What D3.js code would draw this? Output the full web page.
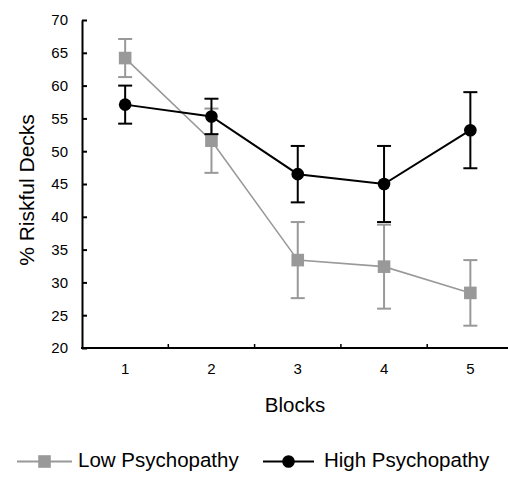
<!DOCTYPE html>
<html>
<head>
<meta charset="utf-8">
<script src="https://cdn.jsdelivr.net/npm/d3@7"></script>
<style>
  html, body { margin: 0; padding: 0; background: #fff; }
  svg { display: block; font-family: "Liberation Sans", Arial, sans-serif; }
</style>
</head>
<body>
<svg id="chart" width="508" height="485"></svg>
<script>
// Block labels on the x axis
const blocks = ["1", "2", "3", "4", "5"];
// Mean % of choices from the risky decks, per block
const lowMeans  = [64.2, 51.6, 33.4, 32.4, 28.4];
const lowErr    = [2.9, 4.9, 5.8, 6.4, 5.0];
const highMeans = [57.1, 55.3, 46.5, 45.0, 53.2];
const highErr   = [2.9, 2.7, 4.3, 5.8, 5.8];
// Y-axis ticks
const yTicks = [20, 25, 30, 35, 40, 45, 50, 55, 60, 65, 70];

const series = [
  { name: "Low Psychopathy",  means: lowMeans,  errs: lowErr,  color: "#999999", shape: "square", width: 1.6 },
  { name: "High Psychopathy", means: highMeans, errs: highErr, color: "#000000", shape: "circle", width: 2 }
];

const svg = d3.select("#chart");
const plotLeft = 82, plotRight = 513.5, plotTop = 20, plotBottom = 348;

const x = d3.scaleBand().domain(blocks).range([plotLeft, plotRight]).paddingInner(0).paddingOuter(0);
const y = d3.scaleLinear().domain([20, 70]).range([plotBottom, plotTop]);

// Y axis: tick marks point into the plot, labels sit to the left
const yAxis = svg.append("g")
  .attr("transform", `translate(${plotLeft},0)`)
  .call(d3.axisLeft(y).tickValues(yTicks).tickSize(-5).tickPadding(14).tickSizeOuter(0));
yAxis.select(".domain").attr("stroke", "#000").attr("stroke-width", 2);
yAxis.selectAll(".tick line").attr("stroke", "#000").attr("stroke-width", 2);
yAxis.selectAll(".tick text").attr("font-size", 15).attr("fill", "#000")
  .attr("font-family", "Liberation Sans, Arial, sans-serif");

// X axis line with inner ticks on band boundaries
svg.append("line")
  .attr("x1", plotLeft - 1).attr("x2", 508)
  .attr("y1", plotBottom).attr("y2", plotBottom)
  .attr("stroke", "#000").attr("stroke-width", 2);
blocks.slice(1).forEach(b => {
  svg.append("line")
    .attr("x1", x(b)).attr("x2", x(b))
    .attr("y1", plotBottom).attr("y2", plotBottom - 4)
    .attr("stroke", "#000").attr("stroke-width", 1.5);
});
svg.append("g").selectAll("text").data(blocks).join("text")
  .attr("x", d => x(d) + x.bandwidth() / 2)
  .attr("y", 374)
  .attr("text-anchor", "middle")
  .attr("font-size", 15)
  .text(d => d);

// Axis titles
svg.append("text")
  .attr("x", 295).attr("y", 412)
  .attr("text-anchor", "middle").attr("font-size", 20.5)
  .text("Blocks");
svg.append("text")
  .attr("transform", "translate(33.5,190) rotate(-90)")
  .attr("text-anchor", "middle").attr("font-size", 21)
  .text("% Riskful Decks");

const cx = i => x(blocks[i]) + x.bandwidth() / 2;
const line = d3.line().x((d, i) => cx(i)).y(d => y(d));

function drawMarker(g, shape, color, px, py) {
  if (shape === "square") {
    g.append("rect").attr("x", px - 6.3).attr("y", py - 6.3)
      .attr("width", 12.6).attr("height", 12.6).attr("fill", color);
  } else {
    g.append("circle").attr("cx", px).attr("cy", py).attr("r", 6.3).attr("fill", color);
  }
}

series.forEach(s => {
  const g = svg.append("g");
  // error bars
  s.means.forEach((m, i) => {
    const px = cx(i);
    const hi = y(m + s.errs[i]), lo = y(m - s.errs[i]);
    g.append("line").attr("x1", px).attr("x2", px).attr("y1", hi).attr("y2", lo)
      .attr("stroke", s.color).attr("stroke-width", 2);
    [hi, lo].forEach(v => g.append("line")
      .attr("x1", px - 7).attr("x2", px + 7).attr("y1", v).attr("y2", v)
      .attr("stroke", s.color).attr("stroke-width", 2));
  });
  g.append("path").datum(s.means).attr("d", line)
    .attr("fill", "none").attr("stroke", s.color).attr("stroke-width", s.width);
  s.means.forEach((m, i) => drawMarker(g, s.shape, s.color, cx(i), y(m)));
});

// Legend
const legendItems = [
  { s: series[0], x1: 17, x2: 72, label: 78 },
  { s: series[1], x1: 263, x2: 314, label: 324 }
];
legendItems.forEach(it => {
  const g = svg.append("g");
  const ly = 461.5;
  g.append("line").attr("x1", it.x1).attr("x2", it.x2).attr("y1", ly).attr("y2", ly)
    .attr("stroke", it.s.color).attr("stroke-width", 2);
  drawMarker(g, it.s.shape, it.s.color, (it.x1 + it.x2) / 2, ly);
  g.append("text").attr("x", it.label).attr("y", 467)
    .attr("font-size", 20.5).text(it.s.name);
});
</script>
</body>
</html>
